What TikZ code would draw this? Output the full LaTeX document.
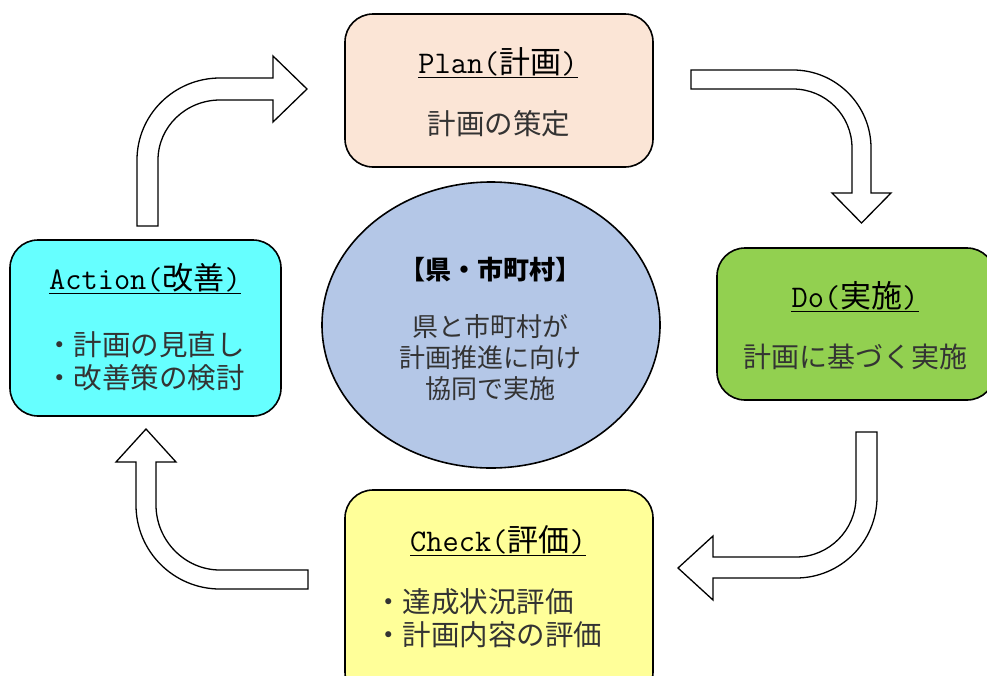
\documentclass[tikz,border=0pt]{standalone}
\usepackage{fontspec}
\setmainfont{Noto Sans CJK JP}
\usetikzlibrary{shapes.geometric}
\definecolor{planfill}{HTML}{FBE5D6}
\definecolor{dofill}{HTML}{92D050}
\definecolor{checkfill}{HTML}{FFFF99}
\definecolor{actfill}{HTML}{66FFFF}
\definecolor{corefill}{HTML}{B4C7E7}
\definecolor{bodygray}{HTML}{333333}
\newcommand{\lat}[1]{{\ttfamily\fontsize{31.5}{36}\selectfont #1}}
\tikzset{
  box/.style={draw=black, line width=1.6pt, rounded corners=28pt, inner sep=0pt},
  bigarrow/.style={draw=black, fill=white, line width=1.3pt, line join=miter},
  ttl/.style={anchor=south, inner sep=0pt, text=black, font=\fontsize{31}{38}\selectfont},
  body/.style={inner sep=0pt, text=bodygray, font=\fontsize{28.5}{33}\selectfont},
  corebody/.style={inner sep=0pt, text=bodygray, align=center, font=\fontsize{26}{31}\selectfont},
  uline/.style={line width=1.5pt},
}
\begin{document}
\begin{tikzpicture}[x=1pt,y=-1pt]
\useasboundingbox (0,0) rectangle (987,675);

% arrows
\path[bigarrow] (137,226) -- (137,160) .. controls (137,114.7) and (174.2,78) .. (220,78)
  -- (273,78) -- (273,56) -- (307,89) -- (273,122) -- (273,100) -- (220,100)
  .. controls (185.8,100) and (158,126.9) .. (158,160) -- (158,226) -- cycle;
\path[bigarrow] (691,70) -- (793,70) .. controls (836,70) and (871,105) .. (871,148)
  -- (871,193) -- (891,193) -- (861.5,223) -- (832,193) -- (852,193) -- (852,148)
  .. controls (852,115.4) and (825.6,89) .. (793,89) -- (691,89) -- cycle;
\path[bigarrow] (856,432) -- (877,432) -- (877,497) .. controls (877,541.7) and (840.7,578) .. (796,578)
  -- (713,578) -- (713,600) -- (678,568) -- (713,536) -- (713,557) -- (796,557)
  .. controls (829,557) and (856,530) .. (856,497) -- cycle;
\path[bigarrow] (308,570) -- (308,589) -- (220,589) .. controls (173.6,589) and (136,551.4) .. (136,505)
  -- (136,462) -- (116,462) -- (146,429) -- (176,462) -- (156,462) -- (156,505)
  .. controls (156,540.3) and (184.7,570) .. (220,570) -- cycle;

% boxes
\node[box, fill=planfill, minimum width=308pt, minimum height=153pt] (plan) at (499,90.5) {};
\node[box, fill=dofill, minimum width=278pt, minimum height=152pt] (do) at (856,324) {};
\node[box, fill=checkfill, minimum width=308pt, minimum height=210pt] (check) at (499,595) {};
\node[box, fill=actfill, minimum width=271pt, minimum height=176pt] (act) at (145.5,328) {};
\node[draw=black, ellipse, fill=corefill, line width=1.6pt, minimum width=338pt, minimum height=286pt, inner sep=0pt] (core) at (491,325) {};

% titles
\node[ttl] (plantitle) at (498,76) {\lat{Plan(}計画\lat{)}};
\draw[uline] ([yshift=-1.5pt]plantitle.south west) -- ([yshift=-1.5pt]plantitle.south east);
\node[ttl] (dotitle) at (855,310) {\lat{Do(}実施\lat{)}};
\draw[uline] ([yshift=-1.5pt]dotitle.south west) -- ([yshift=-1.5pt]dotitle.south east);
\node[ttl] (checktitle) at (498,554) {\lat{Check(}評価\lat{)}};
\draw[uline] ([yshift=-1.5pt]checktitle.south west) -- ([yshift=-1.5pt]checktitle.south east);
\node[ttl] (acttitle) at (145,292) {\lat{Action(}改善\lat{)}};
\draw[uline] ([yshift=-1.5pt]acttitle.south west) -- ([yshift=-1.5pt]acttitle.south east);

% bodies
\node[body] (planbody) at (499,124) {計画の策定};
\node[body, font=\fontsize{28}{33}\selectfont] (dobody) at (855,357) {計画に基づく実施};
\node[body, align=left] (actbody) at (145,361) {・計画の見直し\\・改善策の検討};
\node[body, align=left, anchor=west] (checkbody) at (374,618) {・達成状況評価\\・計画内容の評価};

% core
\node[inner sep=0pt, text=black, font=\bfseries\fontsize{26}{30}\selectfont] (coretitle) at (490,270) {【県・市町村】};
\node[corebody] (coretext) at (490,358) {県と市町村が\\計画推進に向け\\協同で実施};
\end{tikzpicture}
\end{document}
